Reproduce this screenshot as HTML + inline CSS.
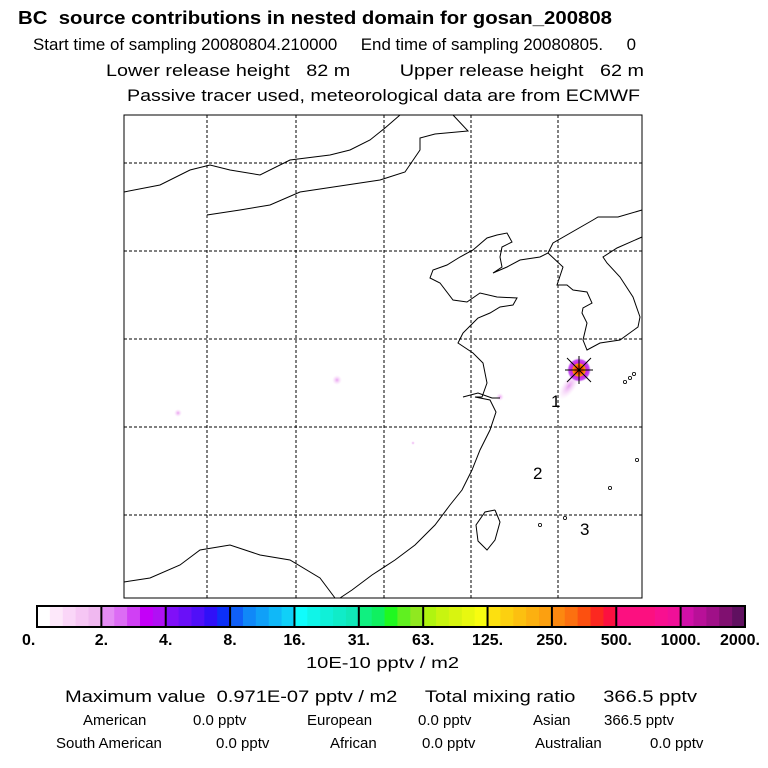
<!DOCTYPE html>
<html><head><meta charset="utf-8"><style>
html,body{margin:0;padding:0;background:#fff;}
svg{display:block;font-family:"Liberation Sans",sans-serif;}
svg text{white-space:pre;}
</style></head><body>
<svg id="c" width="768" height="768" viewBox="0 0 768 768" xml:space="preserve">
<g>
<text x="18" y="24" font-size="18" font-weight="bold" textLength="594" lengthAdjust="spacingAndGlyphs">BC  source contributions in nested domain for gosan_200808</text>
<text x="33" y="50" font-size="17" textLength="603" lengthAdjust="spacingAndGlyphs">Start time of sampling 20080804.210000     End time of sampling 20080805.     0</text>
<text x="106" y="76" font-size="17" textLength="538" lengthAdjust="spacingAndGlyphs">Lower release height   82 m         Upper release height   62 m</text>
<text x="127" y="101" font-size="17" textLength="513" lengthAdjust="spacingAndGlyphs">Passive tracer used, meteorological data are from ECMWF</text>
</g>
<g id="map"></g>
<g id="cbar"></g>
<g font-size="15">
<text x="306" y="668" font-size="16" textLength="153" lengthAdjust="spacingAndGlyphs">10E-10 pptv / m2</text>
<text x="65" y="702" font-size="17" textLength="632" lengthAdjust="spacingAndGlyphs">Maximum value  0.971E-07 pptv / m2     Total mixing ratio     366.5 pptv</text>
<text x="83" y="725">American</text>
<text x="193" y="725">0.0 pptv</text>
<text x="307" y="725">European</text>
<text x="418" y="725">0.0 pptv</text>
<text x="533" y="725">Asian</text>
<text x="604" y="725">366.5 pptv</text>
<text x="56" y="748">South American</text>
<text x="216" y="748">0.0 pptv</text>
<text x="330" y="748">African</text>
<text x="422" y="748">0.0 pptv</text>
<text x="535" y="748">Australian</text>
<text x="650" y="748">0.0 pptv</text>
</g>
</svg>
<script>
const NS='http://www.w3.org/2000/svg';
const tickLabels=['0.','2.','4.','8.','16.','31.','63.','125.','250.','500.','1000.','2000.'];
const segColors=[
['#ffffff','#fde8fa','#fad6f8','#f6c6f4','#f0b8f0'],
['#e48cf4','#dc6cf4','#d040f4','#c400f8','#b010f4'],
['#8010f8','#6a10f8','#5010f8','#3010f8','#0c30f8'],
['#1060f8','#1088f8','#10a0f8','#10b8f8','#10d0f8'],
['#10fcfc','#10f4e8','#10f0d8','#10ecc8','#10e8b8'],
['#10f080','#10f060','#20f820','#60f020','#90e820'],
['#b0f410','#c8f410','#d8f410','#e8f810','#f8fc10'],
['#fce010','#fcd010','#fcc010','#fcb010','#fca010'],
['#fc8810','#fc7010','#fc5010','#fc2820','#fc1040'],
['#fc1080','#fc1080','#fc1080','#f81090','#f01098'],
['#d010a8','#b81098','#a01088','#801070','#601060']];
const gridX=[207,296,384,471,558], gridY=[163,251,339,427,515];
function el(t,a,p){const e=document.createElementNS(NS,t);for(const k in a)e.setAttribute(k,a[k]);p.appendChild(e);return e;}
const map=document.getElementById('map');
const X0=124,Y0=115,X1=642,Y1=598;
const defs=el('defs',{},map);
const rg=el('radialGradient',{id:'pl'},defs);
[['0','#ff2000'],['0.35','#ff5000'],['0.5','#f0a000'],['0.6','#d020e0'],['0.85','#c050f0'],['1','rgba(240,180,240,0)']].forEach(s=>el('stop',{offset:s[0],'stop-color':s[1]},rg));
const rg2=el('radialGradient',{id:'sp'},defs);
[['0','#e8a0f0'],['1','rgba(250,220,250,0)']].forEach(s=>el('stop',{offset:s[0],'stop-color':s[1]},rg2));
let e;
e=el('ellipse',{cx:569,cy:386,rx:7,ry:16,fill:'url(#sp)',transform:'rotate(35 569 386)'},map);

e=el('circle',{cx:579,cy:370,r:12,fill:'url(#pl)'},map);

[[178,413,4],[337,380,5],[500,397,4],[413,443,2]].forEach(s=>{const c=el('circle',{cx:s[0],cy:s[1],r:s[2],fill:'url(#sp)'},map);});
const coasts=[
'124,192 160,185 190,170 210,165 230,170 260,175 290,160 330,155 350,150 370,140 385,128 400,115',
'207,215 240,210 270,205 300,192 340,186 380,180 405,172 420,150 420,138 435,134 468,131 453,115',
'642,210 618,217 598,217 593,220 553,243 548,253 540,257 520,260 507,267 493,273 502,267 500,257 502,247 512,242 507,233 497,235 487,238 473,250 460,257 447,265 433,270 430,278 440,283 453,300 467,302 480,293 497,297 517,298 513,305 500,307 490,313 478,318 473,323 463,333 458,343 473,353 483,363 487,383 482,397 475,397 490,400 496,412 490,430 480,450 472,470 462,490 450,505 435,525 415,545 395,560 372,575 352,590 340,598',
'548,253 563,267 557,285 567,285 573,290 587,292 592,303 583,308 582,313 587,323 583,340 587,350 600,343 620,340 638,327 640,317 633,297 620,277 607,263 603,257 617,248 642,237',
'124,582 150,578 180,565 200,550 230,545 260,555 290,560 320,578 335,598',
'495,510 500,522 495,540 487,550 478,541 476,525 485,512 495,510',
'463,397 478,393 492,398 500,398'];
coasts.forEach(p=>{const l=el('polyline',{points:p,fill:'none',stroke:'#000','stroke-width':1},map);});
[[630,378],[634,374],[625,382],[637,460],[610,488],[540,525],[565,518]].forEach(p=>{const c=el('circle',{cx:p[0],cy:p[1],r:1.6,fill:'none',stroke:'#000','stroke-width':0.8},map);});
gridX.forEach(x=>{const l=el('line',{x1:x,y1:Y0,x2:x,y2:Y1,stroke:'#000','stroke-dasharray':'3,2'},map);});
gridY.forEach(y=>{const l=el('line',{x1:X0,y1:y,x2:X1,y2:y,stroke:'#000','stroke-dasharray':'3,2'},map);});
const m=el('g',{stroke:'#000','stroke-width':1},map);
el('line',{x1:567,y1:358,x2:591,y2:382},m);el('line',{x1:591,y1:358,x2:567,y2:382},m);el('line',{x1:565,y1:370,x2:593,y2:370},m);el('line',{x1:579,y1:356,x2:579,y2:384},m);
[['1',551,407],['2',533,479],['3',580,535]].forEach(t=>{const x=el('text',{x:t[1],y:t[2],'font-size':17},map);x.textContent=t[0];});
const fr=el('rect',{x:X0,y:Y0,width:X1-X0,height:Y1-Y0,fill:'none',stroke:'#000'},map);
const cb=document.getElementById('cbar');
const CX0=37,CX1=745,CY=606,CH=21,sw=(CX1-CX0)/segColors.length;
segColors.forEach((seg,i)=>{const w=sw/seg.length;seg.forEach((c,j)=>{const r=el('rect',{x:CX0+i*sw+j*w,y:CY,width:w+0.5,height:CH,fill:c},cb);});});
segColors.forEach((s,i)=>{if(i>0){const l=el('line',{x1:CX0+i*sw,y1:CY,x2:CX0+i*sw,y2:CY+CH,stroke:'#000','stroke-width':2},cb);}});
const cr=el('rect',{x:CX0,y:CY,width:CX1-CX0,height:CH,fill:'none',stroke:'#000','stroke-width':2},cb);
tickLabels.forEach((t,i)=>{const x=el('text',{x:CX0+i*sw,y:645,'font-size':16,'font-weight':'bold','text-anchor':'middle'},cb);if(i==0){x.setAttribute('text-anchor','start');x.setAttribute('x',CX0-15);}if(i==tickLabels.length-1){x.setAttribute('text-anchor','end');x.setAttribute('x',CX1+15);}x.textContent=t;});
</script>
</body></html>
